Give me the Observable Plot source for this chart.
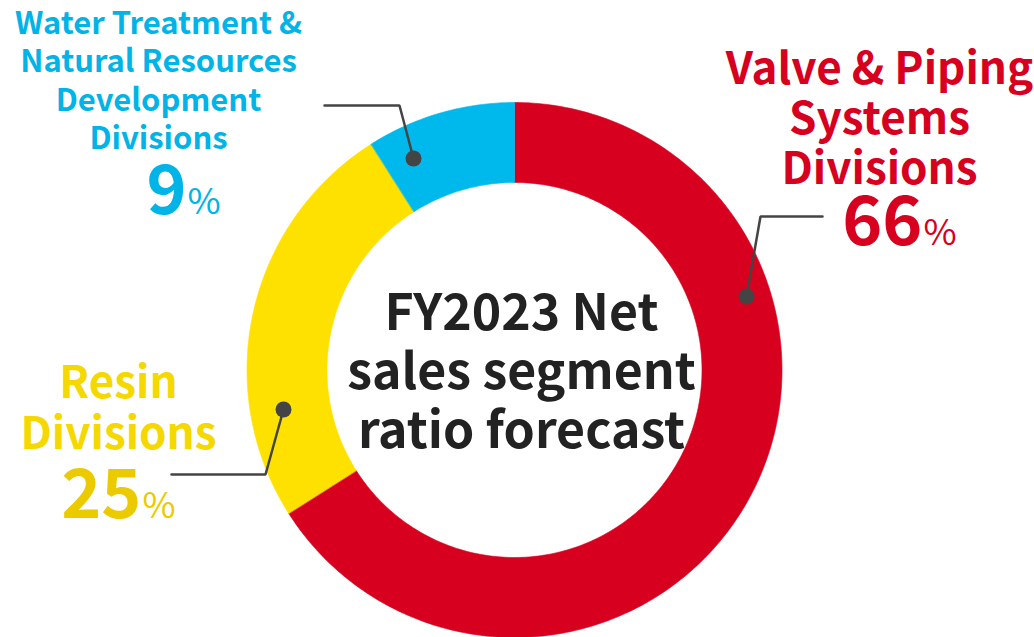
<!DOCTYPE html>
<html>
<head>
<meta charset="utf-8">
<script src="https://cdn.jsdelivr.net/npm/d3@7"></script>
<script src="https://cdn.jsdelivr.net/npm/@observablehq/plot@0.6"></script>
<style>
  html, body { margin: 0; padding: 0; background: #fff; }
  #chart svg { display: block; }
</style>
</head>
<body>
<div id="chart"></div>
<script>
// ---- Data ----
const segments = [
  "Valve & Piping Systems Divisions",
  "Resin Divisions",
  "Water Treatment & Natural Resources Development Divisions"
];
const shares = [66, 25, 9];
const labelLines = [
  ["Valve & Piping", "Systems", "Divisions"],
  ["Resin", "Divisions"],
  ["Water Treatment &", "Natural Resources", "Development", "Divisions"]
];
const centerTitle = ["FY2023 Net", "sales segment", "ratio forecast"];
const segmentColors = ["#d7001e", "#ffe100", "#00b9ec"];

// ---- Layout (pixels) ----
const W = 1034, H = 637;
const cx = 514, cy = 369.5, rOuter = 267.5, rInner = 187.5;
const labelLayout = [
  {x: 879, y0: 83, lh: 50, fs: 44, fill: "#d7001e", numX: 922, numY: 244, numFill: "#d7001e",
   leader: [[746, 296], [760, 216], [822, 216]]},
  {x: 118, y0: 397, lh: 51, fs: 44, fill: "#f5d800", numX: 141, numY: 517, numFill: "#ebcb00",
   leader: [[283, 409], [265, 474], [171, 474]]},
  {x: 158, y0: 33, lh: 38.5, fs: 31, fill: "#00b4e8", numX: 186, numY: 213, numFill: "#00b4e8",
   leader: [[413, 158], [399, 105], [324, 105]]}
];
const numFs = 68, pctFs = 36;
const font = "'Noto Sans CJK JP', 'Noto Sans', sans-serif";

// ---- Build ring polygons from the shares ----
const pie = d3.pie().sort(null).value(d => d.share).startAngle(0).endAngle(2 * Math.PI);
const arcs = pie(segments.map((s, i) => ({segment: s, share: shares[i]})));
const ringPts = [];
arcs.forEach(a => {
  const n = Math.max(8, Math.ceil((a.endAngle - a.startAngle) / (2 * Math.PI) * 360));
  const outer = d3.range(n + 1).map(k => a.startAngle + (a.endAngle - a.startAngle) * k / n);
  outer.forEach(t => ringPts.push({segment: a.data.segment, x: cx + rOuter * Math.sin(t), y: cy - rOuter * Math.cos(t)}));
  outer.slice().reverse().forEach(t => ringPts.push({segment: a.data.segment, x: cx + rInner * Math.sin(t), y: cy - rInner * Math.cos(t)}));
});

// ---- Text rows ----
const labelRows = [];
labelLines.forEach((lines, i) => {
  const L = labelLayout[i];
  lines.forEach((t, j) => labelRows.push({text: t, x: L.x, y: L.y0 + j * L.lh, fs: L.fs, fill: L.fill}));
});
const numRows = shares.map((v, i) => ({text: String(v), x: labelLayout[i].numX, y: labelLayout[i].numY, fill: labelLayout[i].numFill}));
const leaderRows = [];
labelLayout.forEach((L, i) => L.leader.forEach(p => leaderRows.push({segment: segments[i], x: p[0], y: p[1]})));
const dotRows = labelLayout.map((L, i) => ({segment: segments[i], x: L.leader[0][0], y: L.leader[0][1]}));
const centerRows = centerTitle.map((t, j) => ({text: t, x: 521, y: 329 + j * 59}));

function textMark(rows, fs, opts) {
  return Plot.text(rows, {
    x: "x", y: "y", text: "text", fontSize: fs, lineAnchor: "middle", dy: -0.32 * fs,
    fontFamily: font, ...opts
  });
}

const labelMarks = [44, 31].map(fs =>
  textMark(labelRows.filter(r => r.fs === fs), fs, {fill: d => d.fill, fontWeight: "bold", textAnchor: "middle"})
);

const chart = Plot.plot({
  width: W, height: H,
  margin: 0,
  x: {domain: [0, W], range: [0, W], axis: null},
  y: {domain: [0, H], range: [0, H], axis: null},
  color: {domain: segments, range: segmentColors},
  style: {background: "white", fontFamily: font},
  marks: [
    Plot.line(ringPts, {x: "x", y: "y", z: "segment", fill: "segment", stroke: "segment", strokeWidth: 0.6, curve: "linear-closed"}),
    Plot.line(leaderRows, {x: "x", y: "y", z: "segment", stroke: "#444", strokeWidth: 2.5, strokeLinejoin: "miter"}),
    Plot.dot(dotRows, {x: "x", y: "y", r: 8, fill: "#444", stroke: "none"}),
    ...labelMarks,
    textMark(numRows, numFs, {fill: d => d.fill, fontWeight: "bold", textAnchor: "end"}),
    textMark(numRows.map(d => ({...d, text: "%", x: d.x + 1})), pctFs, {fill: d => d.fill, fontWeight: "normal", textAnchor: "start"}),
    textMark(centerRows, 50, {fill: "#222", fontWeight: "bold", textAnchor: "middle"})
  ]
});
document.getElementById("chart").appendChild(chart);
</script>
</body>
</html>
